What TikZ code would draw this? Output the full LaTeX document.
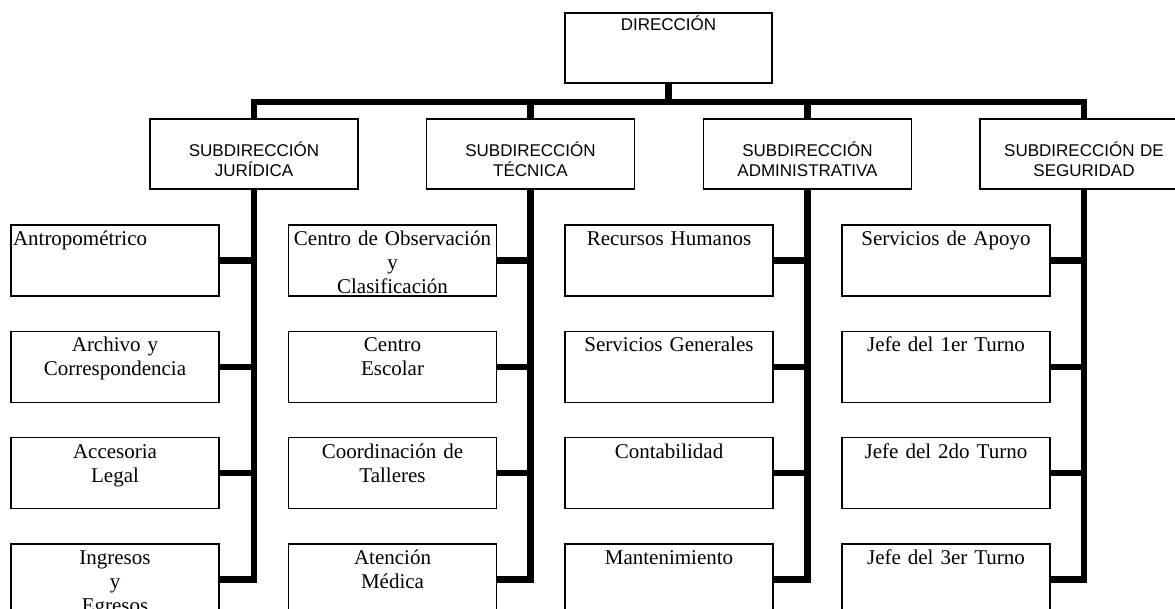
\documentclass[tikz,border=0pt]{standalone}
\usepackage{fontspec}
\setmainfont{Liberation Serif}
\newfontfamily\arialfont{Liberation Sans}
\usetikzlibrary{positioning}
\usetikzlibrary{calc}

\tikzset{
  box/.style={draw, line width=1.2pt, minimum width=208pt, minimum height=71pt, inner sep=0pt},
  conn/.style={line width=6.5pt, line join=miter},
  headtxt/.style={font=\arialfont\fontsize{17}{20}\selectfont, text width=206pt, align=center, inner sep=0pt, anchor=base},
  celltxt/.style={font=\fontsize{21}{24}\selectfont, text width=204pt, align=center, inner sep=0pt, anchor=base}
}

\begin{document}
\begin{tikzpicture}[x=1pt, y=1pt]
	\useasboundingbox (0,0) rectangle (1175,-609);
	% Define the coordinates of the points
	\coordinate (bus) at (668.5,-102);

	% Draw the boxes
	\node[box, minimum width=207pt, minimum height=70pt] (dir) at (668.5,-48) {};
	\node[headtxt] (dir-t) at ([yshift=-18pt]dir.north) {DIRECCIÓN};

	\foreach \name/\x/\txt in {sj/254/{SUBDIRECCIÓN\\JURÍDICA}, st/530.5/{SUBDIRECCIÓN\\TÉCNICA},
		sa/807.5/{SUBDIRECCIÓN\\ADMINISTRATIVA}, ss/1084/{SUBDIRECCIÓN DE\\SEGURIDAD}}
	{
		\node[box, minimum height=70pt] (\name) at (\x,-154) {};
		\node[headtxt] (\name-t) at ([yshift=-38.5pt]\name.north) {\txt};
	}

	\foreach \name/\x/\y/\txt in {
		j1/115/260.5/{\leftline{Antropométrico}}, j2/115/366.8/{Archivo y\\Correspondencia},
		j3/115/473.1/{Accesoria\\Legal}, j4/115/579.4/{Ingresos\\y\\Egresos},
		t1/392.5/260.5/{Centro de Observación\\y\\Clasificación}, t2/392.5/366.8/{Centro\\Escolar},
		t3/392.5/473.1/{Coordinación de\\Talleres}, t4/392.5/579.4/{Atención\\Médica},
		a1/669/260.5/{Recursos Humanos}, a2/669/366.8/{Servicios Generales},
		a3/669/473.1/{Contabilidad}, a4/669/579.4/{Mantenimiento},
		s1/946/260.5/{Servicios de Apoyo}, s2/946/366.8/{Jefe del 1er Turno},
		s3/946/473.1/{Jefe del 2do Turno}, s4/946/579.4/{Jefe del 3er Turno}}
	{
		\node[box] (\name) at (\x,-\y) {};
		\node[celltxt] (\name-t) at ([yshift=-21pt]\name.north) {\txt};
	}

	% Draw the lines
	\draw[conn] (dir.south) -- (bus);
	\draw[conn] (sj.north) -- (sj.north |- bus) -- (ss.north |- bus) -- (ss.north);
	\foreach \sub in {st, sa}
	\draw[conn] (\sub.north) -- (\sub.north |- bus);

	\foreach \sub/\col in {sj/j, st/t, sa/a, ss/s}
	{
		\draw[conn] (\sub.south) -- (\sub.south |- \col4.east) -- (\col4.east);
		\foreach \row in {1,2,3}
		\draw[conn] (\col\row.east) -- (\sub.south |- \col\row.east);
	}
\end{tikzpicture}
\end{document}
